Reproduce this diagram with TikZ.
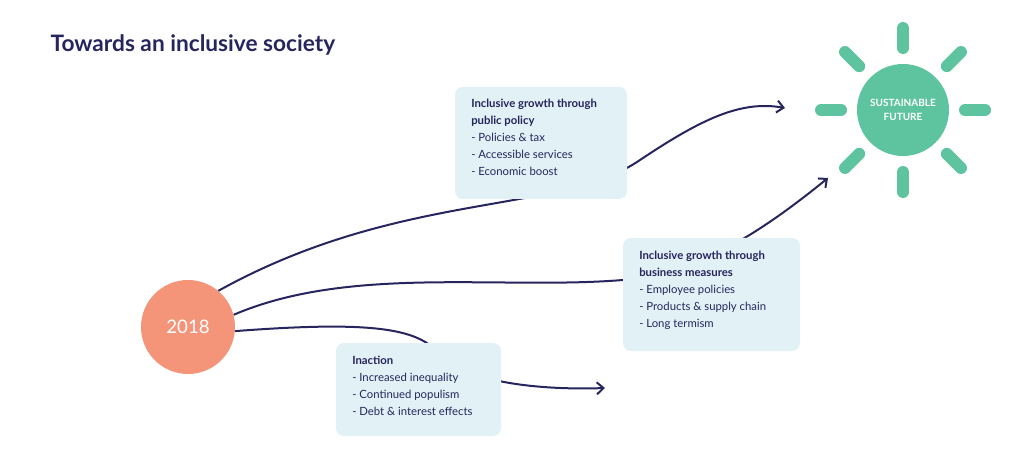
\documentclass[tikz,border=0pt]{standalone}
\usepackage{fontspec}
\setmainfont{Lato}
\usetikzlibrary{arrows.meta,calc}
\definecolor{navy}{HTML}{26255E}
\definecolor{boxc}{HTML}{E1F1F6}
\definecolor{salmon}{HTML}{F4957A}
\definecolor{sun}{HTML}{5EC4A0}
\begin{document}
\begin{tikzpicture}[x=0.75pt,y=-0.75pt,
  conn/.style={draw=navy,line width=1.5pt,-{Straight Barb[length=5pt,width=9pt]}},
  box/.style={fill=boxc,rounded corners=5pt,inner sep=0pt,anchor=north west},
  txt/.style={anchor=north west,align=left,text=navy,font=\fontsize{8.5}{12.8}\selectfont,inner sep=0pt},
  ray/.style={draw=sun,line width=9pt,line cap=round}]
\useasboundingbox (0,0) rectangle (1032,449);
\node[anchor=west,text=navy,font=\fontsize{17}{20}\bfseries\selectfont] (title) at (46,45) {Towards an inclusive society};
\node[circle,fill=salmon,minimum size=70.5pt,inner sep=0pt,text=white,font=\fontsize{14}{16}\selectfont] (y) at (188,327) {2018};
\node[circle,fill=sun,minimum size=69pt,inner sep=0pt,text=white,align=center,font=\fontsize{7.5}{10}\bfseries\selectfont] (sf) at (903,110) {SUSTAINABLE\\FUTURE};
\foreach \a in {0,45,...,315}{
  \draw[ray] ($(sf.center)+(\a:62)$) -- ($(sf.center)+(\a:82)$);}
\coordinate (e1) at (785,108);
\coordinate (e2) at (828,178);
\coordinate (e3) at (605,388);
\draw[conn] (y.50) .. controls (400,190) and (560,215) .. (640,160) .. controls (700,120) and (740,100) .. (e1);
\draw[conn] (y.15) .. controls (350,265) and (500,290) .. (623,280) .. controls (700,275) and (770,225) .. (e2);
\draw[conn] (y.-5) .. controls (380,320) and (420,330) .. (440,355) .. controls (470,385) and (550,390) .. (e3);
\fill[boxc,rounded corners=6pt] (455,87) rectangle (627,199);
\fill[boxc,rounded corners=6pt] (623,238) rectangle (800,351);
\fill[boxc,rounded corners=6pt] (336,343) rectangle (501,436);
\node[txt] (b1) at (471,99) {\textbf{Inclusive growth through}\\\textbf{public policy}\\- Policies \& tax\\- Accessible services\\- Economic boost};
\node[txt] (b2) at (639,251) {\textbf{Inclusive growth through}\\\textbf{business measures}\\- Employee policies\\- Products \& supply chain\\- Long termism};
\node[txt] (b3) at (352,356) {\textbf{Inaction}\\- Increased inequality\\- Continued populism\\- Debt \& interest effects};
\end{tikzpicture}
\end{document}
